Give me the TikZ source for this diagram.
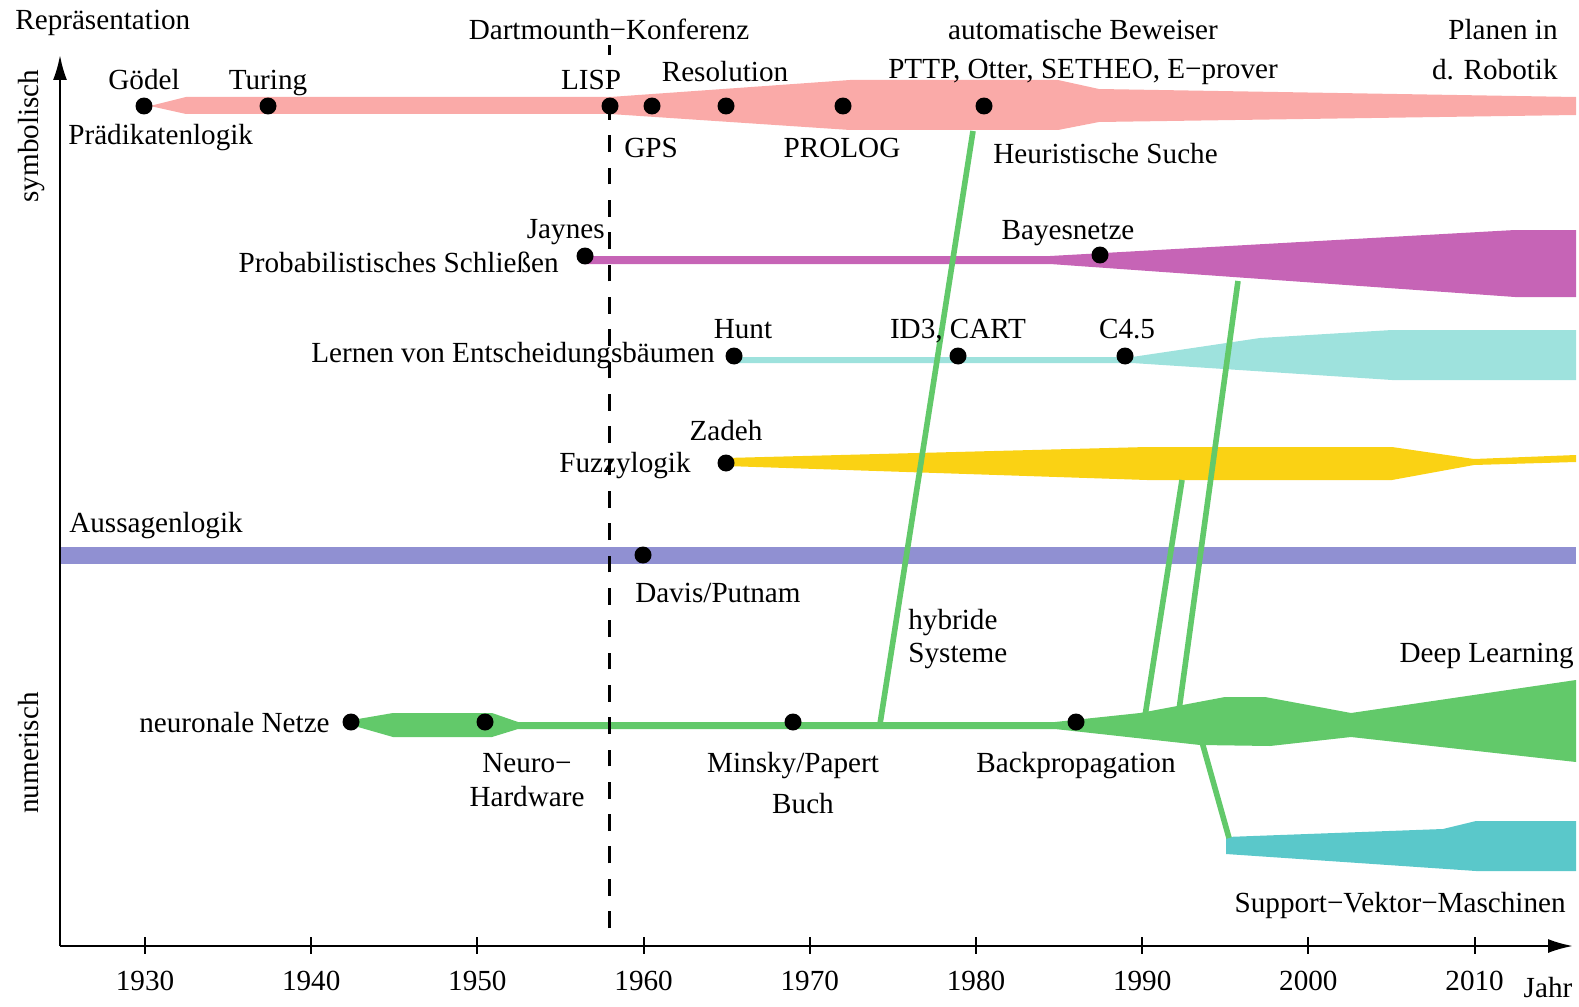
\documentclass[tikz,border=0pt]{standalone}
\usepackage{fontspec}
\setmainfont{Liberation Serif}
\usetikzlibrary{arrows.meta}
\definecolor{bandred}{RGB}{250,170,168}
\definecolor{bandpurple}{RGB}{198,100,182}
\definecolor{bandcyan}{RGB}{158,226,221}
\definecolor{bandyellow}{RGB}{250,210,20}
\definecolor{bandblue}{RGB}{144,144,210}
\definecolor{bandgreen}{RGB}{98,201,106}
\definecolor{bandsvm}{RGB}{90,200,202}
\begin{document}
\begin{tikzpicture}[x=0.02cm,y=-0.02cm,
  lbl/.style={font=\fontsize{16.6}{20}\selectfont, inner sep=0pt, anchor=base},
  lblw/.style={lbl, anchor=base west},
  lble/.style={lbl, anchor=base east},
  dotn/.style={circle, fill=black, inner sep=0pt, minimum size=0.34cm},
  axisline/.style={line width=1.3pt, -{Latex[length=0.5cm,width=0.28cm]}},
  tickline/.style={line width=1.1pt},
  dartline/.style={line width=1.7pt, dash pattern=on 9.6pt off 8.8pt},
  conn/.style={draw=bandgreen, line width=3.2pt}]
\useasboundingbox (0,0) rectangle (1579,1007);

% bands
\fill[bandred] (150,106) -- (186,97) -- (610,97) -- (850,80) -- (1058,80) -- (1099,89) -- (1576,97) -- (1576,115) -- (1099,122) -- (1058,130) -- (850,130) -- (610,114) -- (186,114) -- cycle;
\fill[bandpurple] (585,256) -- (1050,256) -- (1515,230) -- (1576,230) -- (1576,297) -- (1515,297) -- (1050,264) -- (585,264) -- cycle;
\fill[bandcyan] (734,357) -- (1132,357) -- (1260,338) -- (1392,330) -- (1576,330) -- (1576,380) -- (1392,380) -- (1132,363) -- (734,363) -- cycle;
\fill[bandyellow] (726,458) -- (1147,447) -- (1392,447) -- (1474,459) -- (1576,455) -- (1576,462) -- (1474,465) -- (1392,480) -- (1147,480) -- (726,466) -- cycle;
\fill[bandblue] (60,547) rectangle (1576,564);
\fill[bandgreen] (358,719) -- (393,713) -- (492,713) -- (518,722) -- (1055,722) -- (1140,713) -- (1225,697) -- (1265,697) -- (1351,713) -- (1576,680) -- (1576,762) -- (1351,737) -- (1270,746) -- (1200,745) -- (1055,729) -- (518,729) -- (492,737) -- (393,737) -- (358,727) -- cycle;
\fill[bandsvm] (1226,837) -- (1443,829) -- (1476,821) -- (1576,821) -- (1576,871) -- (1476,871) -- (1226,854) -- cycle;

% green connectors
\coordinate (h1) at (880,724); \coordinate (h2) at (973,131);
\coordinate (a1) at (1179,710); \coordinate (a2) at (1238,281);
\coordinate (b1) at (1145,716); \coordinate (b2) at (1182,480);
\coordinate (s1) at (1202,742); \coordinate (s2) at (1229,838);
\draw[conn] (h1) -- (h2);
\draw[conn] (a1) -- (a2);
\draw[conn] (b1) -- (b2);
\draw[conn] (s1) -- (s2);

% axes
\coordinate (orig) at (60,946);
\coordinate (ytop) at (60,55);
\coordinate (xend) at (1573,946);
\draw[axisline] (orig) -- (ytop);
\draw[axisline] (orig) -- (xend);
\foreach \i in {0,...,8} {
  \pgfmathsetmacro\xx{145+\i*166.2}
  \pgfmathtruncatemacro\yr{1930+10*\i}
  \draw[tickline] (\xx,937) -- (\xx,954);
  \node[lbl] (year\i) at (\xx,990) {\yr};
}
\node[lbl] (jahr) at (1548,997) {Jahr};
\node[lblw] (rep) at (15,30) {Repräsentation};
\node[lbl, rotate=90] (symb) at (38,136) {symbolisch};
\node[lbl, rotate=90] (num) at (38,753) {numerisch};

% Dartmouth line
\coordinate (dbot) at (609,928); \coordinate (dtop) at (609,45);
\draw[dartline] (dbot) -- (dtop);
\node[lbl] (dart) at (609,40) {Dartmounth−Konferenz};

% dots
\node[dotn] (goedel) at (144,106) {};
\node[dotn] (turing) at (268,106) {};
\node[dotn] (lisp) at (610,106) {};
\node[dotn] (gps) at (652,106) {};
\node[dotn] (resol) at (726,106) {};
\node[dotn] (prolog) at (843,106) {};
\node[dotn] (heur) at (984,106) {};
\node[dotn] (jaynes) at (585,256) {};
\node[dotn] (bayes) at (1100,255) {};
\node[dotn] (hunt) at (734,356) {};
\node[dotn] (id3) at (958,356) {};
\node[dotn] (c45) at (1125,356) {};
\node[dotn] (zadeh) at (726,463) {};
\node[dotn] (davis) at (643,555) {};
\node[dotn] (nn) at (351,722) {};
\node[dotn] (nhw) at (485,722) {};
\node[dotn] (minsky) at (793,722) {};
\node[dotn] (backprop) at (1076,722) {};

% labels
\node[lbl] (goedelL) at (144,90) {Gödel};
\node[lbl] (turingL) at (268,90) {Turing};
\node[lblw] (praedL) at (68,145) {Prädikatenlogik};
\node[lbl] (lispL) at (591,90) {LISP};
\node[lbl] (resolL) at (725,82) {Resolution};
\node[lbl] (gpsL) at (651,157) {GPS};
\node[lbl] (prologL) at (842,157) {PROLOG};
\node[lbl] (abL) at (1083,40) {automatische Beweiser};
\node[lbl] (pttpL) at (1083,79) {PTTP, Otter, SETHEO, E−prover};
\node[lblw] (heurL) at (993,163) {Heuristische Suche};
\node[lble] (planenL) at (1558,40) {Planen in};
\node[lble] (robL) at (1558,80) {d. Robotik};
\node[lble] (jaynesL) at (605,238) {Jaynes};
\node[lble] (probL) at (559,272) {Probabilistisches Schließen};
\node[lbl] (bayesL) at (1068,239) {Bayesnetze};
\node[lbl] (huntL) at (743,338) {Hunt};
\node[lble] (lernL) at (715,362) {Lernen von Entscheidungsbäumen};
\node[lbl] (id3L) at (958,338) {ID3, CART};
\node[lbl] (c45L) at (1127,338) {C4.5};
\node[lbl] (zadehL) at (726,440) {Zadeh};
\node[lble] (fuzzyL) at (691,472) {Fuzzylogik};
\node[lblw] (aussL) at (69,532) {Aussagenlogik};
\node[lblw] (davisL) at (635,602) {Davis/Putnam};
\node[lblw] (hybL) at (908,629) {hybride};
\node[lblw] (sysL) at (908,662) {Systeme};
\node[lble] (deepL) at (1574,662) {Deep Learning};
\node[lble] (nnL) at (330,732) {neuronale Netze};
\node[lbl] (neuroL) at (527,772) {Neuro−};
\node[lbl] (hwL) at (527,806) {Hardware};
\node[lbl] (minskyL) at (793,772) {Minsky/Papert};
\node[lbl] (buchL) at (803,813) {Buch};
\node[lbl] (bpL) at (1076,772) {Backpropagation};
\node[lble] (svmL) at (1566,912) {Support−Vektor−Maschinen};
\end{tikzpicture}
\end{document}
